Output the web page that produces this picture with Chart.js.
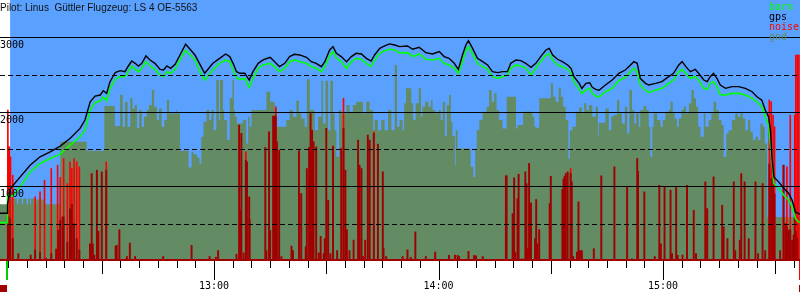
<!DOCTYPE html>
<html><head><meta charset="utf-8">
<script src="https://cdn.jsdelivr.net/npm/chart.js@4"></script>
<style>html,body{margin:0;padding:0;background:#fff}canvas{display:block}</style>
</head><body>
<canvas id="c" width="800" height="300"></canvas>
<script>
// ---- text ----
const titleText = "Pilot: Linus  Güttler Flugzeug: LS 4 OE-5563";
const legendNames = ["baro", "gps", "noise", "gnd"];
// ---- axes (time in minutes after 12:00, altitude in m) ----
const xMin = 2.8, xMax = 216.6;
const yMin = 0, yMax = 3500;
const gridValues = [500, 1000, 1500, 2000, 2500, 3000];
const yLabelValues = [1000, 2000, 3000];
const hourTicks = [60, 120, 180];
const logStart = 5.5, takeoff = 4.8, landing = 216.2;

// ---- baro ----
const baroT = [2.8,4.7,4.8,5.5,6.2,8.2,10.85,13.5,16.2,18.9,21.5,24.2,25.5,26.9,28.2,29.6,30.4,31.3,32.2,33.6,34.9,36.2,37.1,38.0,38.9,39.8,40.7,41.8,42.9,44.2,45.6,46.5,47.4,48.4,49.6,50.9,52.4,53.6,54.9,56.2,57.5,59.7,61.5,63.1,64.2,65.1,66.0,66.9,68.2,69.4,70.4,71.8,73.1,75.0,76.2,77.5,78.9,80.2,81.5,82.9,84.7,86.0,87.3,88.7,89.6,90.9,91.8,92.7,94.0,95.4,96.7,98.0,99.4,100.7,102.0,102.9,104.3,105.6,106.9,108.3,109.6,111.7,113.1,114.8,116.6,118.4,120.2,121.5,122.8,124.2,125.3,126.4,127.3,128.0,129.1,130.4,131.8,133.1,134.4,135.8,137.1,138.4,139.3,140.7,142.0,143.3,144.7,146.0,147.3,148.7,149.6,150.5,151.8,153.1,154.5,155.4,156.2,157.6,158.3,159.4,160.4,161.1,162.0,162.9,164.6,166.4,168.2,169.9,171.3,172.2,173.1,173.9,175.3,176.2,178.0,179.7,181.5,182.8,184.2,185.1,186.1,187.3,188.6,189.5,190.9,191.8,192.6,193.5,194.4,195.3,196.7,198.4,200.2,202.0,203.8,205.1,206.4,207.3,208.2,209.1,209.6,210.9,212.3,213.6,214.5,215.4,216.2,216.6];
const baroV = [515,515,880,882,870,994,1196,1308,1375,1433,1554,1666,1755,2024,2123,2149,2203,2145,2315,2436,2472,2472,2539,2615,2570,2539,2584,2673,2615,2570,2494,2472,2539,2517,2570,2696,2825,2763,2696,2540,2427,2561,2651,2696,2673,2561,2458,2436,2449,2329,2449,2584,2629,2651,2606,2539,2584,2673,2696,2673,2651,2606,2584,2539,2606,2749,2808,2718,2673,2584,2673,2718,2705,2651,2606,2696,2785,2821,2839,2830,2790,2794,2741,2776,2705,2696,2718,2651,2629,2584,2517,2673,2821,2875,2776,2651,2606,2570,2472,2449,2472,2494,2584,2629,2615,2584,2494,2584,2673,2763,2776,2696,2629,2606,2570,2517,2405,2302,2248,2293,2315,2248,2212,2200,2270,2315,2418,2463,2539,2584,2539,2360,2293,2257,2293,2315,2382,2427,2539,2570,2517,2449,2472,2427,2315,2302,2382,2405,2338,2226,2226,2248,2248,2226,2181,2136,2069,1934,1823,1352,1039,972,882,815,725,569,524,520];

// ---- gps ----
const gpsT = [2.8,4.7,4.8,5.5,5.96,8.2,10.85,13.5,16.2,18.9,21.5,24.2,25.5,26.9,28.2,29.6,30.4,31.3,32.2,33.6,34.9,36.2,37.1,38.0,38.9,39.8,40.7,41.8,42.9,44.2,45.6,46.5,47.4,48.4,49.6,50.9,52.4,53.6,54.9,56.2,57.5,59.7,61.5,63.1,64.2,65.1,66.0,66.9,68.2,69.4,70.4,71.8,73.1,75.0,76.2,77.5,78.9,80.2,81.5,82.9,84.7,86.0,87.3,88.7,89.6,90.9,91.8,92.7,94.0,95.4,96.7,98.0,99.4,100.7,102.0,102.9,104.3,105.6,106.9,108.3,109.6,111.7,113.1,114.8,116.6,118.4,120.2,121.5,122.8,124.2,125.3,126.4,127.3,128.0,129.1,130.4,131.8,133.1,134.4,135.8,137.1,138.4,139.3,140.7,142.0,143.3,144.7,146.0,147.3,148.7,149.6,150.5,151.8,153.1,154.5,155.4,156.2,157.6,158.3,159.4,160.4,161.1,162.0,162.9,164.6,166.4,168.2,169.9,171.3,172.2,173.1,173.9,175.3,176.2,178.0,179.7,181.5,182.8,184.2,185.1,186.1,187.3,188.6,189.5,190.9,191.8,192.6,193.5,194.4,195.3,196.7,198.4,200.2,202.0,203.8,205.1,206.4,207.3,208.2,208.7,209.1,209.6,210.9,212.3,213.6,214.5,215.4,216.2,216.6];
const gpsV = [640,640,760,960,994,1128,1285,1397,1464,1540,1643,1778,1890,2136,2212,2226,2284,2248,2405,2526,2553,2539,2615,2682,2651,2615,2651,2749,2696,2651,2570,2561,2615,2584,2637,2763,2906,2839,2763,2640,2517,2651,2718,2776,2741,2651,2539,2517,2517,2427,2539,2651,2696,2732,2673,2606,2651,2741,2772,2763,2732,2673,2651,2606,2673,2830,2875,2785,2741,2673,2741,2785,2776,2718,2682,2763,2852,2884,2911,2897,2875,2884,2839,2866,2794,2776,2808,2741,2718,2651,2570,2763,2897,2955,2852,2718,2673,2629,2539,2526,2539,2539,2651,2696,2687,2651,2597,2651,2741,2830,2852,2763,2705,2673,2629,2584,2472,2382,2315,2382,2391,2329,2302,2290,2360,2427,2517,2561,2629,2673,2651,2449,2382,2360,2382,2405,2472,2517,2629,2673,2606,2539,2570,2517,2427,2405,2472,2517,2449,2360,2315,2338,2338,2315,2270,2203,2158,2024,1934,1755,1397,1128,1061,972,905,815,658,636,630];

// ---- ground (stepped) ----
const gndT = [2.8,4.8,6.0,6.4,7.3,7.7,8.6,9.0,9.9,10.3,10.8,11.1,12.1,12.5,14.8,18.9,26.0,30.7,33.5,34.9,35.6,36.2,36.9,37.6,38.2,38.8,39.4,40.0,40.7,41.3,42.0,42.6,43.4,44.0,44.7,45.3,46.0,46.7,47.4,48.0,49.9,50.2,50.9,53.2,54.0,54.5,55.4,56.1,56.6,57.2,58.0,58.7,59.3,59.9,60.6,61.3,61.6,62.4,62.7,63.5,64.2,64.9,65.3,65.6,66.1,67.7,68.6,69.1,69.5,70.0,74.0,75.0,76.2,76.8,79.3,80.2,81.1,82.0,82.7,83.3,84.2,84.8,85.6,86.9,87.8,88.7,89.1,89.8,90.5,91.1,91.8,92.2,92.7,93.4,94.0,95.4,96.2,97.1,98.0,99.8,100.7,101.6,102.5,102.9,103.8,104.7,105.6,106.5,107.4,108.3,108.9,109.6,110.4,110.8,111.3,112.7,113.2,113.9,114.7,115.3,115.7,116.4,117.3,118.0,118.4,119.1,120.0,120.6,121.1,121.7,122.2,122.8,123.3,123.7,124.4,124.6,125.1,128.6,129.3,129.8,130.2,130.9,131.8,132.8,133.5,134.2,134.9,135.5,136.2,137.1,138.2,140.7,141.1,142.6,145.1,145.6,146.0,146.9,150.0,150.6,151.3,152.1,152.7,153.3,154.0,154.7,155.1,155.8,156.7,157.6,158.3,158.9,159.5,160.2,161.1,162.0,162.6,162.8,164.6,165.5,166.2,166.8,167.7,168.3,169.0,169.8,170.4,171.0,171.7,172.3,172.8,173.5,173.9,174.8,175.5,176.2,176.6,177.1,177.5,178.4,179.3,179.9,180.6,181.5,182.0,182.6,183.1,183.7,184.2,184.9,185.5,186.1,186.9,187.6,188.2,188.8,189.4,190.0,190.9,191.3,192.2,192.9,193.5,194.2,194.9,195.6,196.2,196.9,197.5,198.4,199.3,200.0,200.7,201.3,202.0,202.7,203.3,204.0,204.7,205.4,206.0,206.6,207.2,207.8,208.2,216.6];
const gndV = [640,761,837,761,837,761,837,761,837,761,837,761,837,761,824,761,1599,1478,2078,1812,2230,1800,2136,1800,2181,2046,2091,1780,2024,1800,1934,2024,2091,2293,2069,1890,2046,1800,1890,2158,1979,2024,1979,1478,1254,1464,1433,1388,1308,1666,1867,2024,1890,2024,1755,2427,1890,2427,2024,1890,1621,2181,2427,2024,1934,1845,1890,1576,1934,1800,2024,2270,2136,2046,1800,1890,2024,1934,2149,1979,1912,1800,2436,2024,1755,1934,2418,1845,2418,1755,2418,1979,1755,1397,2024,1979,2091,2002,2091,2136,1979,2136,2024,1755,1890,1755,1890,1755,2024,1755,2629,1800,1890,1755,2114,2315,2114,1890,2114,2315,1934,2069,2136,2069,2158,2024,1979,2024,1890,2136,1675,2091,2226,1867,1675,1285,1755,1509,1263,1128,1487,1755,1890,2002,2069,2293,2136,2248,2024,1890,1778,2203,1778,1823,2002,1934,1800,1787,2181,2382,2203,2136,2315,2203,2069,1890,1375,1755,1800,2002,2060,1979,2114,2024,2091,1934,2069,1675,1854,2046,1755,1934,1957,2158,1979,1845,2069,1711,2293,2024,1845,1979,1800,2024,2078,2024,1800,1397,1800,1979,1890,1800,1890,2002,2024,2136,2002,1912,1800,1912,2024,2069,1979,2114,2293,2181,2069,1800,1666,1979,1800,1890,1979,2136,2024,1890,1823,1397,1711,1755,1890,1979,1934,2002,1912,1755,1890,1733,1621,1666,1621,1845,1800,1576,591,591];

// ---- noise (dark red = mean, bright red = peak) ----
const noiseT = [4.9,5.2,5.5,6.2,7.7,11.0,12.2,13.5,15.0,16.5,17.8,18.4,18.9,19.5,19.8,20.8,21.5,22.0,22.6,23.3,24.0,26.85,27.3,27.6,28.0,28.7,29.1,30.0,31.2,33.7,34.0,34.7,36.7,37.5,38.9,46.4,54.0,58.8,60.5,61.1,66.0,66.7,67.0,67.3,67.9,68.5,68.8,69.4,69.5,73.7,74.0,74.7,75.0,75.8,76.2,76.5,76.8,77.4,78.0,80.7,81.1,82.7,83.3,84.5,84.8,85.4,85.8,86.2,86.6,87.3,88.0,88.5,89.3,89.6,90.0,90.5,91.1,91.8,92.9,94.0,94.6,95.1,95.5,96.2,97.3,98.5,98.9,99.4,99.8,100.4,101.1,101.6,102.7,103.8,105.1,105.3,106.0,110.4,111.7,112.6,113.8,116.6,119.1,122.8,124.4,125.1,125.5,128.0,129.5,130.0,131.8,138.0,138.2,139.8,140.2,140.5,141.1,141.4,142.3,143.2,143.5,143.8,144.2,144.7,145.8,146.1,146.4,146.9,149.7,150.0,153.1,153.4,153.7,154.0,154.5,155.3,155.6,156.0,157.0,157.4,157.8,158.3,161.5,163.5,167.0,170.4,171.7,173.1,173.3,175.0,177.8,179.0,179.4,180.4,182.0,182.4,183.5,183.9,185.2,186.4,188.2,188.8,191.3,191.8,193.5,195.8,196.2,197.2,198.9,199.3,200.5,200.9,201.8,202.9,204.7,205.4,206.6,207.3,208.4,208.9,209.4,209.8,211.3,212.2,212.7,213.1,213.6,214.0,214.5,214.9,215.2,215.5,215.9];
const noiseV = [591,591,560,300,100,80,150,120,40,100,160,412,546,591,591,250,700,760,500,300,150,230,1173,230,80,1218,400,1196,1218,200,210,420,60,240,60,60,210,60,50,140,90,1823,681,1711,110,1352,1330,860,555,1523,140,1733,410,1943,1943,1943,1599,1487,60,200,140,1478,905,190,1240,1523,1979,1755,1599,1531,110,330,100,300,1778,815,100,1540,140,1509,1778,1218,420,140,280,1621,1285,1240,60,280,1688,1621,1711,1567,1196,165,60,60,150,50,390,60,120,75,80,75,60,130,75,70,60,1142,1142,636,1115,120,837,1164,30,1196,1039,165,1308,779,300,824,230,421,770,1137,958,1100,1137,1173,1196,1173,1061,60,120,793,140,140,165,1142,1263,994,30,1375,1205,927,60,1016,230,994,949,100,994,75,80,1016,681,100,1061,703,1128,748,457,300,1061,140,280,1173,1061,300,1061,100,1039,140,1300,1105,1105,900,140,1285,502,457,412,420,278,350,681,400,300];
const peakT = [4.9,5.0,5.3,5.6,6.2,12.2,13.5,14.7,16.5,18.2,18.9,19.8,20.8,21.5,22.0,22.6,23.3,24.0,31.2,68.5,76.5,94.6,102.7,155.3,208.4,208.9,209.4,209.8,212.2,213.1,214.0,215.2,215.5,215.9,216.3];
const peakV = [2024,1531,1531,1396,1151,860,927,1084,1240,1285,1120,1375,1039,1330,1240,1375,1330,1263,1330,1464,2069,2181,1733,1240,2158,2136,1957,1800,1285,1263,1957,1957,2763,2763,2763];

const BLUE = '#5aa0ff', GND = '#648c64', DARK = '#a00000', RED = '#ff0000', GREEN = '#00ff00';
const pts = (t, v) => t.map((x, i) => ({x, y: v[i]}));
const fmtHour = v => (12 + Math.floor(v / 60)) + ':' + String(Math.round(v % 60)).padStart(2, '0');

const deco = {
  id: 'deco',
  beforeDatasetsDraw(chart) {
    const {ctx, chartArea: a, scales: {x}} = chart;
    ctx.save();
    const xs = x.getPixelForValue(logStart);
    ctx.fillStyle = BLUE;
    ctx.fillRect(xs, a.top, a.right - xs, a.bottom - a.top);
    ctx.restore();
  },
  afterDatasetsDraw(chart) {
    const {ctx, chartArea: a, scales: {x, y}} = chart;
    ctx.save();
    // grid lines on top of the data
    ctx.strokeStyle = '#000'; ctx.lineWidth = 1;
    gridValues.forEach(v => {
      const py = Math.round(y.getPixelForValue(v)) + 0.5;
      ctx.setLineDash(v % 1000 ? [5, 3] : []);
      ctx.beginPath(); ctx.moveTo(a.left, py); ctx.lineTo(a.right, py); ctx.stroke();
    });
    ctx.setLineDash([]);
    // y labels inside plot
    ctx.fillStyle = '#000';
    ctx.font = '10px "DejaVu Sans Mono"';
    ctx.textAlign = 'left'; ctx.textBaseline = 'alphabetic';
    yLabelValues.forEach(v => ctx.fillText(String(v), a.left, Math.round(y.getPixelForValue(v)) + 11));
    // noise floor along the base
    ctx.fillStyle = DARK;
    ctx.fillRect(a.left, a.bottom - 2, a.right - a.left, 2);
    // time ticks
    ctx.strokeStyle = '#000';
    for (let t = Math.ceil(xMin / 5) * 5; t <= xMax; t += 5) {
      const len = t % 60 === 0 ? 19 : (t % 30 === 0 ? 13 : 7);
      const px = Math.round(x.getPixelForValue(t)) + 0.5;
      ctx.beginPath(); ctx.moveTo(px, a.bottom); ctx.lineTo(px, a.bottom + len); ctx.stroke();
    }
    // takeoff / landing markers
    const xt = x.getPixelForValue(takeoff), xl = x.getPixelForValue(landing);
    ctx.fillStyle = '#00d000';
    ctx.fillRect(Math.round(xt) - 1, a.bottom, 2, 19);
    ctx.fillStyle = RED;
    ctx.fillRect(Math.round(xl), a.bottom, 2, 19);
    ctx.fillStyle = DARK;
    ctx.fillRect(a.left, a.bottom + 24, Math.round(xt) - a.left, 7);
    ctx.fillRect(Math.round(xl), a.bottom + 24, a.right - Math.round(xl), 7);
    ctx.restore();
  },
  afterDraw(chart) {
    const {ctx} = chart;
    ctx.save();
    ctx.fillStyle = '#111';
    ctx.font = '10px "Liberation Sans"';
    ctx.textAlign = 'left'; ctx.textBaseline = 'alphabetic';
    ctx.fillText(titleText, 0, 11);
    const cols = [GREEN, '#000', RED, GND];
    ctx.font = '10px "DejaVu Sans Mono"';
    legendNames.forEach((n, i) => { ctx.fillStyle = cols[i]; ctx.fillText(n, 769, 10 + i * 10); });
    ctx.restore();
  }
};

new Chart(document.getElementById('c'), {
  data: {
    datasets: [
      {type: 'line', label: 'gnd', data: pts(gndT, gndV), stepped: 'after', fill: 'origin', backgroundColor: GND, borderWidth: 0, pointRadius: 0, order: 5},
      {type: 'bar', label: 'noise peak', data: pts(peakT, peakV), backgroundColor: RED, barThickness: 1, grouped: false, order: 4},
      {type: 'bar', label: 'noise', data: pts(noiseT, noiseV), backgroundColor: DARK, barThickness: 1.3, grouped: false, order: 3},
      {type: 'line', label: 'baro', data: pts(baroT, baroV), borderColor: GREEN, borderWidth: 1.6, pointRadius: 0, tension: 0, fill: false, order: 2},
      {type: 'line', label: 'gps', data: pts(gpsT, gpsV), borderColor: '#000', borderWidth: 1.4, pointRadius: 0, tension: 0, fill: false, order: 1}
    ]
  },
  options: {
    responsive: false, animation: false, devicePixelRatio: 1,
    layout: {padding: 0},
    plugins: {legend: {display: false}, tooltip: {enabled: false}, title: {display: false}},
    scales: {
      x: {
        type: 'linear', min: xMin, max: xMax, offset: false,
        grid: {display: false, drawTicks: false}, border: {display: false},
        afterBuildTicks: s => { s.ticks = hourTicks.map(v => ({value: v})); },
        afterFit: s => { s.height = 39; },
        ticks: {autoSkip: false, maxRotation: 0, padding: 19, color: '#000',
          font: {family: 'DejaVu Sans Mono', size: 10}, callback: v => fmtHour(v)}
      },
      y: {display: false, min: yMin, max: yMax}
    }
  },
  plugins: [deco]
});
</script>
</body></html>
